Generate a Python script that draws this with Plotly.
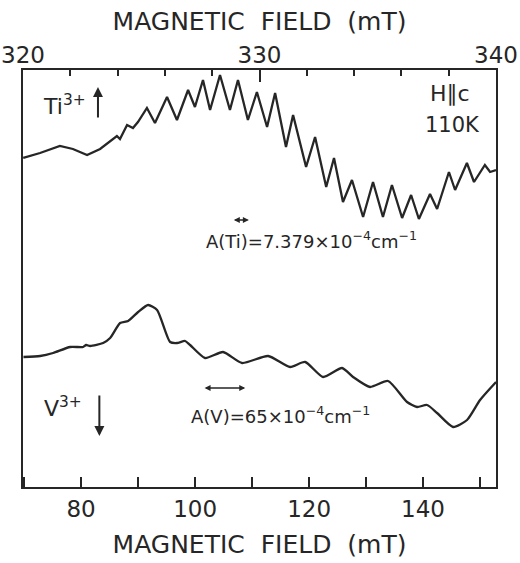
import plotly.graph_objects as go

# Ti3+ spectrum (top axis, magnetic field in mT) - signal in arbitrary units
ti_field_mT = [320.01, 320.72, 321.56, 322.11, 322.71, 323.26, 323.97, 324.10, 324.40, 324.65,
               324.86, 325.24, 325.58, 326.09, 326.51, 326.98, 327.27, 327.61, 327.91, 328.33,
               328.75, 329.09, 329.51, 329.89, 330.32, 330.66, 331.12, 331.42, 331.97, 332.35,
               332.82, 333.15, 333.53, 333.91, 334.38, 334.80, 335.22, 335.60, 336.03, 336.41,
               336.74, 337.21, 337.51, 338.01, 338.27, 338.77, 339.07, 339.53, 339.75, 340.00]
ti_signal = [329, 334, 341, 338, 332, 338, 351, 348, 362, 359,
             365, 379, 364, 390, 367, 397, 380, 407, 377, 412,
             377, 407, 367, 395, 360, 394, 340, 372, 320, 350,
             300, 329, 285, 307, 270, 305, 270, 302, 269, 292,
             268, 293, 278, 315, 297, 324, 305, 322, 315, 317]

# V3+ spectrum (bottom axis, magnetic field in mT) - signal in arbitrary units
v_field_mT = [69.88, 72.81, 75.09, 78.07, 80.35, 80.88, 81.58, 83.86, 85.09, 86.84,
              88.25, 90.00, 91.75, 93.33, 95.61, 96.84, 98.25, 99.12, 101.75, 104.91,
              108.25, 112.81, 116.67, 119.30, 122.46, 125.79, 127.72, 130.70, 133.86, 137.19,
              138.95, 140.70, 142.46, 145.26, 147.72, 150.00, 152.81]
v_signal = [130, 131, 134, 140, 140, 142, 141, 144, 149, 164,
            166, 175, 182, 177, 145, 144, 146, 142, 129, 135,
            124, 131, 120, 125, 110, 119, 110, 100, 106, 85,
            80, 82, 74, 60, 67, 87, 105]

top_range = [320, 340]
bottom_range = [69.8, 152.8]
y_range = [0, 417]

FONT = "DejaVu Sans"
INK = "#262626"
NB = "\u00a0"
axis_title = f"MAGNETIC{NB}{NB}FIELD{NB}{NB}(mT)"

fig = go.Figure()
fig.add_trace(go.Scatter(x=v_field_mT, y=v_signal, mode="lines", xaxis="x", yaxis="y",
                         line=dict(color=INK, width=2.3, shape="spline", smoothing=0.6),
                         showlegend=False, name="V3+"))
fig.add_trace(go.Scatter(x=ti_field_mT, y=ti_signal, mode="lines", xaxis="x2", yaxis="y",
                         line=dict(color=INK, width=2.3), showlegend=False, name="Ti3+"))

fig.update_layout(
    width=520, height=563,
    margin=dict(l=23, r=24, t=70, b=76, autoexpand=False),
    paper_bgcolor="white", plot_bgcolor="white",
    font=dict(family=FONT, color=INK),
    xaxis=dict(range=bottom_range, side="bottom", showline=True, linecolor=INK, linewidth=2,
               showgrid=False, zeroline=False, ticks="inside", ticklen=10, tickwidth=1.5,
               tickcolor=INK, tick0=80, dtick=20, tickfont=dict(size=23, family=FONT),
               minor=dict(dtick=10, tick0=80, ticks="inside", ticklen=10, tickwidth=1.5, tickcolor=INK),
               title=dict(text=axis_title, font=dict(size=25, family=FONT), standoff=15)),
    xaxis2=dict(range=top_range, side="top", overlaying="x", anchor="y", showline=True,
                linecolor=INK, linewidth=2, showgrid=False, zeroline=False, ticks="inside",
                ticklen=12, tickwidth=1.5, tickcolor=INK, tick0=320, dtick=10,
                tickfont=dict(size=23, family=FONT), ticklabelstandoff=-4,
                minor=dict(dtick=2, tick0=320, ticks="inside", ticklen=6, tickwidth=1.5, tickcolor=INK),
                title=dict(text=axis_title, font=dict(size=25, family=FONT), standoff=4)),
    yaxis=dict(range=y_range, showline=True, mirror=True, linecolor=INK, linewidth=2,
               showgrid=False, zeroline=False, showticklabels=False, ticks=""),
)

ann = []
# labels
ann.append(dict(xref="x2", yref="y", x=321.75, y=382, text="Ti<sup>3+</sup>", showarrow=False,
                font=dict(size=22, family=FONT, color=INK)))
ann.append(dict(xref="x", yref="y", x=76.8, y=80, text="V<sup>3+</sup>", showarrow=False,
                font=dict(size=22, family=FONT, color=INK)))
ann.append(dict(xref="x2", yref="y", x=338.05, y=394, text="H∥c", showarrow=False,
                font=dict(size=22, family=FONT, color=INK)))
ann.append(dict(xref="x2", yref="y", x=338.15, y=362, text="110K", showarrow=False,
                font=dict(size=21, family=FONT, color=INK)))
ann.append(dict(xref="x2", yref="y", x=332.2, y=247,
                text="A(Ti)=7.379×10<sup>−4</sup>cm<sup>−1</sup>", showarrow=False,
                font=dict(size=18, family=FONT, color=INK)))
ann.append(dict(xref="x", yref="y", x=115.0, y=72,
                text="A(V)=65×10<sup>−4</sup>cm<sup>−1</sup>", showarrow=False,
                font=dict(size=18, family=FONT, color=INK)))
# vertical arrows
ann.append(dict(xref="x2", yref="y", x=323.17, y=400, axref="x2", ayref="y", ax=323.17, ay=368,
                text="", showarrow=True, arrowhead=2, arrowsize=1, arrowwidth=2, arrowcolor=INK))
ann.append(dict(xref="x", yref="y", x=83.2, y=51, axref="x", ayref="y", ax=83.2, ay=93,
                text="", showarrow=True, arrowhead=2, arrowsize=1, arrowwidth=2, arrowcolor=INK))
# hyperfine splitting double arrows
ann.append(dict(xref="x2", yref="y", x=329.55, y=267, axref="x2", ayref="y", ax=328.85, ay=267,
                text="", showarrow=True, arrowhead=2, arrowside="end+start", arrowsize=0.8,
                arrowwidth=1.5, arrowcolor=INK))
ann.append(dict(xref="x", yref="y", x=108.8, y=99, axref="x", ayref="y", ax=101.4, ay=99,
                text="", showarrow=True, arrowhead=2, arrowside="end+start", arrowsize=0.8,
                arrowwidth=1.5, arrowcolor=INK))
fig.update_layout(annotations=ann)

fig.write_html("out.html", config={"displayModeBar": False},
               post_script="document.body.style.margin='0';")
